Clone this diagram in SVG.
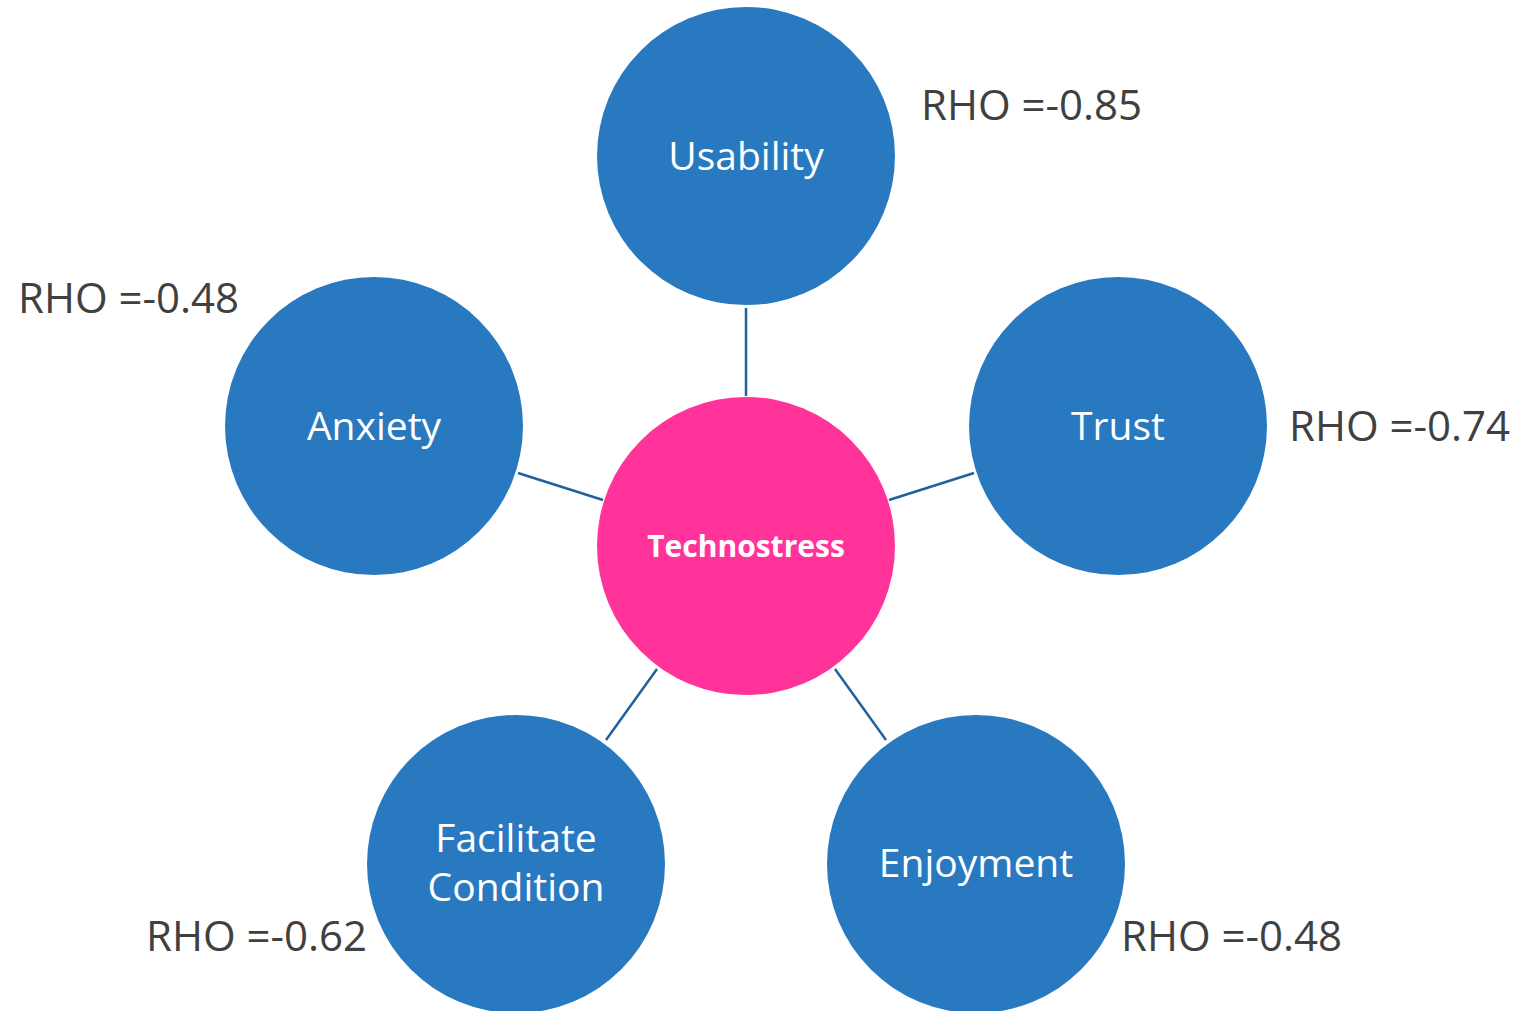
<svg xmlns="http://www.w3.org/2000/svg" width="1524" height="1011" viewBox="0 0 1524 1011">
  <style>
    .factor { fill: #2979C1; }
    .core { fill: #FF3399; }
    .label { font-family: "Open Sans", "Liberation Sans", sans-serif; font-size: 39px; fill: #FFFFFF; text-anchor: middle; }
    .core-label { font-family: "Open Sans", "Liberation Sans", sans-serif; font-size: 30px; font-weight: bold; fill: #FFFFFF; text-anchor: middle; }
    .rho { font-family: "Open Sans", "Liberation Sans", sans-serif; font-size: 42px; fill: #404040; }
    .link { stroke: #1F619E; stroke-width: 2.5; fill: none; }
  </style>
  <rect width="1524" height="1011" fill="#FFFFFF"/>

  <g id="connectors">
    <line class="link" x1="746" y1="308" x2="746" y2="396"/>
    <line class="link" x1="518" y1="473" x2="603" y2="500"/>
    <line class="link" x1="889" y1="500" x2="974" y2="473"/>
    <line class="link" x1="657" y1="669" x2="606" y2="740"/>
    <line class="link" x1="835" y1="669" x2="886" y2="740"/>
  </g>

  <g id="technostress">
    <circle class="core" cx="746" cy="546" r="149"/>
    <text class="core-label" x="746" y="557">Technostress</text>
  </g>

  <g id="usability">
    <circle class="factor" cx="746" cy="156" r="149"/>
    <text class="label" x="746" y="170">Usability</text>
    <text class="rho" x="921" y="120">RHO =-0.85</text>
  </g>

  <g id="anxiety">
    <circle class="factor" cx="374" cy="426" r="149"/>
    <text class="label" x="374" y="440">Anxiety</text>
    <text class="rho" x="18" y="313">RHO =-0.48</text>
  </g>

  <g id="trust">
    <circle class="factor" cx="1118" cy="426" r="149"/>
    <text class="label" x="1118" y="440">Trust</text>
    <text class="rho" x="1289" y="441">RHO =-0.74</text>
  </g>

  <g id="facilitate-condition">
    <circle class="factor" cx="516" cy="864" r="149"/>
    <text class="label" x="516" y="852">Facilitate</text>
    <text class="label" x="516" y="901">Condition</text>
    <text class="rho" x="146" y="951">RHO =-0.62</text>
  </g>

  <g id="enjoyment">
    <circle class="factor" cx="976" cy="864" r="149"/>
    <text class="label" x="976" y="877">Enjoyment</text>
    <text class="rho" x="1121" y="951">RHO =-0.48</text>
  </g>
</svg>
